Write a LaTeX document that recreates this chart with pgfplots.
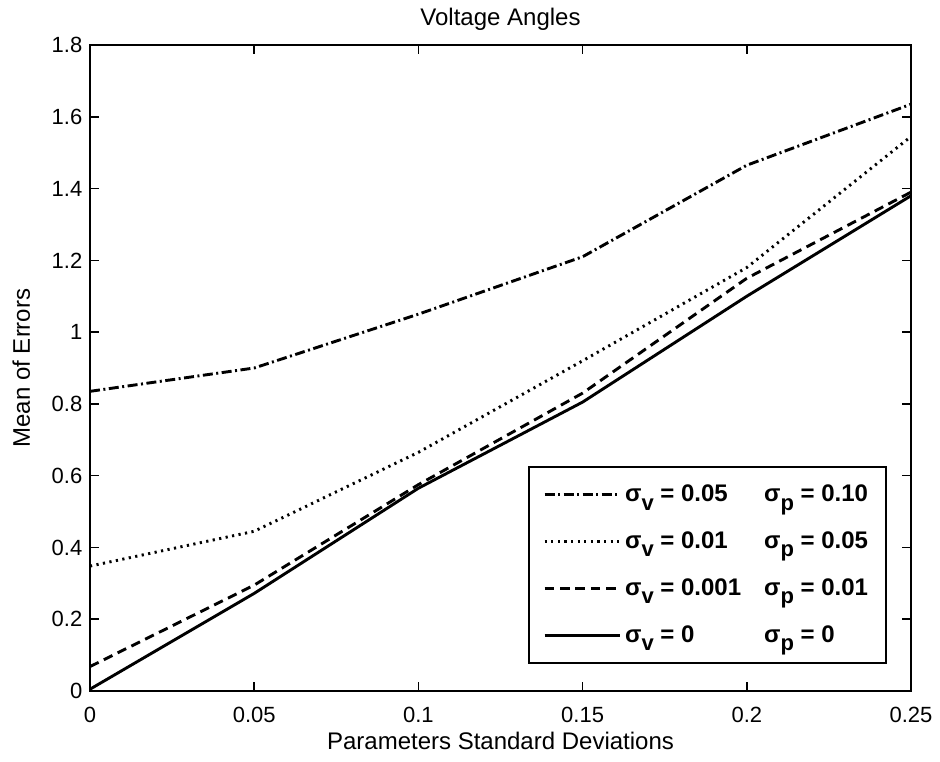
\documentclass[border=0pt]{standalone}
\usepackage{pgfplots}
\pgfplotsset{compat=1.18}
\usepackage{fontspec}
\setmainfont{Liberation Sans}
\newcommand{\sigv}{σ\raisebox{-0.35em}{\fontsize{11}{11}\selectfont v}}
\newcommand{\sigp}{σ\raisebox{-0.35em}{\fontsize{11}{11}\selectfont p}}
\begin{document}
\begin{tikzpicture}
\begin{axis}[
  scale only axis, width=410.5pt, height=323pt,
  xmin=0, xmax=0.25, ymin=0, ymax=1.8,
  xtick={0,0.05,0.1,0.15,0.2,0.25},
  ytick={0,0.2,0.4,0.6,0.8,1,1.2,1.4,1.6,1.8},
  tick align=inside, tick pos=both, major tick length=4.5pt,
  axis line style={line width=1pt},
  every tick/.style={black, line width=0.8pt},
  /pgf/number format/assume math mode=true,
  /pgf/number format/fixed, /pgf/number format/precision=2,
  ticklabel style={font=\fontsize{11}{13}\selectfont},
  xticklabel style={yshift=-4.3pt},
  yticklabel style={xshift=-0.3pt},
  title={Voltage Angles},
  title style={font=\fontsize{12}{14}\selectfont, at={(0.5,1)}, anchor=base, yshift=3.5pt},
  xlabel={Parameters Standard Deviations},
  ylabel={Mean of Errors},
  every axis x label/.style={at={(axis description cs:0.5,0)}, anchor=base, yshift=-29pt, font=\fontsize{12}{14}\selectfont},
  every axis y label/.style={at={(axis description cs:0,0.5)}, xshift=-30pt, rotate=90, anchor=base, font=\fontsize{12}{14}\selectfont},
  legend image code/.code={\draw[#1] (0pt,0pt) -- (37.5pt,0pt);},
  legend cell align=left,
  legend style={at={(0.9708,0.0418)}, anchor=south east, draw=black, line width=1pt,
    font=\fontsize{12}{14}\selectfont\bfseries, row sep=9.5pt, inner xsep=7pt, inner ysep=7pt},
]
\addplot[black, line width=1.45pt, dash pattern=on 5pt off 1.75pt on 1pt off 1.75pt] coordinates {
 (0,0.835) (0.05,0.90) (0.1,1.05) (0.15,1.21) (0.2,1.465) (0.25,1.635)};
\addlegendentry{\makebox[69.5pt][l]{\sigv{} = 0.05}\sigp{} = 0.10}
\addplot[black, line width=1.45pt, dash pattern=on 1.1pt off 2.2pt] coordinates {
 (0,0.348) (0.05,0.445) (0.1,0.665) (0.15,0.92) (0.2,1.18) (0.25,1.545)};
\addlegendentry{\makebox[69.5pt][l]{\sigv{} = 0.01}\sigp{} = 0.05}
\addplot[black, line width=1.45pt, dash pattern=on 4.8pt off 2.9pt] coordinates {
 (0,0.068) (0.05,0.295) (0.1,0.575) (0.15,0.83) (0.2,1.15) (0.25,1.39)};
\addlegendentry{\makebox[69.5pt][l]{\sigv{} = 0.001}\sigp{} = 0.01}
\addplot[black, line width=1.45pt] coordinates {
 (0,0.005) (0.05,0.272) (0.1,0.565) (0.15,0.805) (0.2,1.10) (0.25,1.38)};
\addlegendentry{\makebox[69.5pt][l]{\sigv{} = 0}\sigp{} = 0}
\end{axis}
\pgfresetboundingbox
\path (current axis.south west) ++(-45pt,-35pt) (current axis.north east) ++(14.5pt,22.5pt);
\end{tikzpicture}
\end{document}
